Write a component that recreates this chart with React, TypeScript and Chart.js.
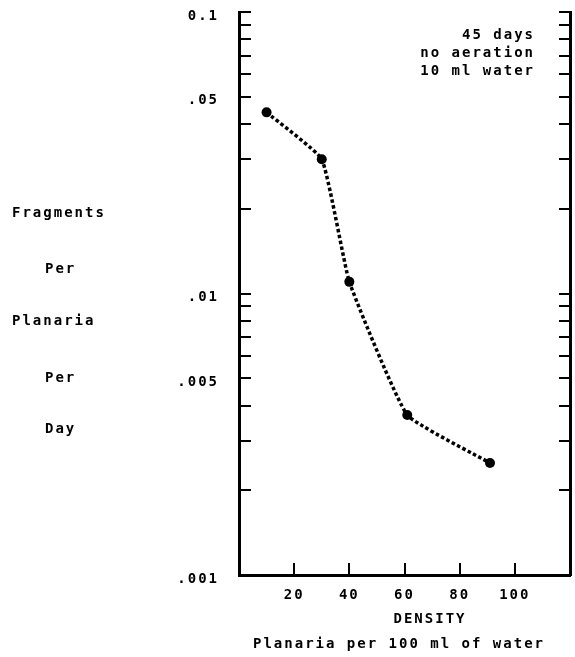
import React, { useEffect, useRef } from 'react';
import { Chart, registerables } from 'chart.js';

Chart.register(...registerables);

// ---- data ----
const DENSITY = [10, 30, 40, 61, 91];
const FRAGMENTS = [0.044, 0.030, 0.011, 0.0037, 0.0025];

const X_TICKS = [20, 40, 60, 80, 100];
const Y_TICK_MARKS = [
  0.001, 0.002, 0.003, 0.004, 0.005, 0.006, 0.007, 0.008, 0.009,
  0.01, 0.02, 0.03, 0.04, 0.05, 0.06, 0.07, 0.08, 0.09, 0.1,
];
const Y_LABEL_VALUES = [0.1, 0.05, 0.01, 0.005, 0.001];
const Y_LABEL_TEXTS = ['0.1', '.05', '.01', '.005', '.001'];

const Y_TITLE_LINES = ['Fragments', 'Per', 'Planaria', 'Per', 'Day'];
const NOTE_LINES = ['45 days', 'no aeration', '10 ml water'];
const X_TITLE = 'DENSITY';
const X_SUBTITLE = 'Planaria per 100 ml of water';

const FONT_FAMILY = '"DejaVu Sans Mono", "Liberation Mono", monospace';
const FONT = { family: FONT_FAMILY, size: 14, weight: 'bold' as const };
const SPACING = '2px';

const textPlugin = {
  id: 'typedText',
  beforeDraw(chart: any) {
    chart.ctx.letterSpacing = SPACING;
  },
  afterDraw(chart: any) {
    const ctx = chart.ctx as CanvasRenderingContext2D;
    const area = chart.chartArea;
    ctx.save();
    ctx.fillStyle = '#000';
    ctx.font = `bold 14px ${FONT_FAMILY}`;
    (ctx as any).letterSpacing = SPACING;
    ctx.textBaseline = 'alphabetic';

    // y-axis title, stacked words
    const indents = [0, 33, 0, 33, 33];
    const baselines = [217, 273, 325, 382, 433];
    ctx.textAlign = 'left';
    Y_TITLE_LINES.forEach((t, i) => ctx.fillText(t, 12 + indents[i], baselines[i]));

    // note top right
    ctx.textAlign = 'right';
    NOTE_LINES.forEach((t, i) => ctx.fillText(t, area.right - 35, area.top + 27 + i * 18));

    // x titles
    ctx.textAlign = 'center';
    ctx.fillText(X_TITLE, 430, area.bottom + 48);
    ctx.fillText(X_SUBTITLE, 399, area.bottom + 73);
    ctx.restore();
  },
};

export default function App() {
  const ref = useRef<HTMLCanvasElement | null>(null);

  useEffect(() => {
    if (!ref.current) return;
    const tickMarks = (s: any) => {
      s.ticks = Y_TICK_MARKS.map((v) => ({ value: v }));
    };
    const chart = new Chart(ref.current, {
      type: 'line',
      data: {
        datasets: [
          {
            data: DENSITY.map((x, i) => ({ x, y: FRAGMENTS[i] })),
            borderColor: '#000',
            borderWidth: 3.5,
            borderDash: [3.5, 2.5],
            borderCapStyle: 'butt',
            pointRadius: 5,
            pointBackgroundColor: '#000',
            pointBorderWidth: 0,
            tension: 0.12,
            fill: false,
          },
        ],
      },
      options: {
        responsive: false,
        animation: false,
        layout: { padding: { top: 12, right: 3, left: 0, bottom: 0 } },
        plugins: {
          legend: { display: false },
          tooltip: { enabled: false },
        },
        scales: {
          x: {
            type: 'linear',
            min: 0,
            max: 120,
            afterBuildTicks: (s: any) => {
              s.ticks = X_TICKS.map((v) => ({ value: v }));
            },
            afterFit: (s: any) => {
              s.height = 82;
              s.paddingLeft = 0;
              s.paddingRight = 0;
            },
            grid: { drawOnChartArea: false, tickLength: -12, lineWidth: 2, color: '#000' },
            border: { display: true, width: 3, color: '#000' },
            ticks: {
              padding: 24,
              color: '#000',
              font: FONT,
              autoSkip: false,
              maxRotation: 0,
              callback: (v: any) => String(v),
            },
          },
          y: {
            type: 'logarithmic',
            position: 'left',
            min: 0.001,
            max: 0.1,
            afterBuildTicks: tickMarks,
            afterFit: (s: any) => {
              s.width = 239;
              s.paddingTop = 0;
              s.paddingBottom = 0;
            },
            grid: { drawOnChartArea: false, tickLength: -12, lineWidth: 2, color: '#000' },
            border: { display: true, width: 3, color: '#000' },
            ticks: {
              padding: 32,
              labelOffset: 4,
              color: '#000',
              font: FONT,
              autoSkip: false,
              callback: (v: any) => {
                const i = Y_LABEL_VALUES.findIndex((l) => Math.abs(l - v) < 1e-9);
                return i >= 0 ? Y_LABEL_TEXTS[i] : '';
              },
            },
          },
          y2: {
            type: 'logarithmic',
            position: 'right',
            min: 0.001,
            max: 0.1,
            afterBuildTicks: tickMarks,
            afterFit: (s: any) => {
              s.width = 0;
              s.paddingTop = 0;
              s.paddingBottom = 0;
            },
            grid: { drawOnChartArea: false, tickLength: -11, lineWidth: 2, color: '#000' },
            border: { display: true, width: 3, color: '#000' },
            ticks: { display: false },
          },
        },
      } as any,
      plugins: [textPlugin],
    });
    return () => chart.destroy();
  }, []);

  return (
    <div style={{ position: 'fixed', left: 0, top: 0, width: 575, height: 657, background: '#fff' }}>
      <canvas ref={ref} width={575} height={657} style={{ display: 'block' }} />
    </div>
  );
}
